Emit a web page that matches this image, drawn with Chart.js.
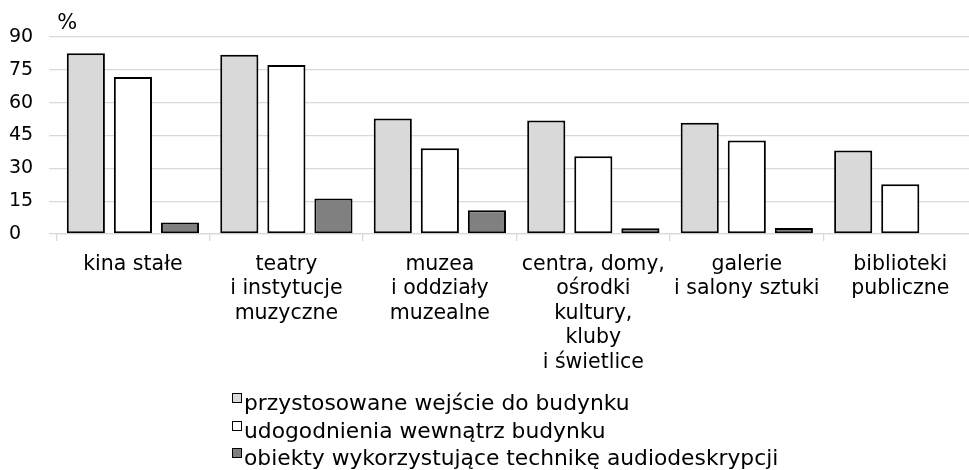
<!DOCTYPE html>
<html>
<head>
<meta charset="utf-8">
<script src="https://cdn.jsdelivr.net/npm/chart.js@4"></script>
<style>
  body { margin: 0; overflow: hidden; background: #fff; font-family: "DejaVu Sans", Verdana, sans-serif; }
  #wrap { position: relative; width: 977px; height: 390px; }
  #legend { position: absolute; left: 232px; top: 389px; font-size: 21.8px; color: #000; }
  #legend div { height: 27.5px; line-height: 27.5px; white-space: nowrap; }
  #legend span.box { display: inline-block; width: 8px; height: 8px; border: 1px solid #000; margin-right: 2px; position: relative; top: -6px; vertical-align: middle; }
</style>
</head>
<body>
<div id="wrap"><canvas id="chart"></canvas></div>
<div id="legend"></div>
<script>
const categories = [
  ["kina stałe"],
  ["teatry", "i instytucje", "muzyczne"],
  ["muzea", "i oddziały", "muzealne"],
  ["centra, domy,", "ośrodki", "kultury,", "kluby", "i świetlice"],
  ["galerie", "i salony sztuki"],
  ["biblioteki", "publiczne"]
];
const seriesNames = [
  "przystosowane wejście do budynku",
  "udogodnienia wewnątrz budynku",
  "obiekty wykorzystujące technikę audiodeskrypcji"
];
const entrance = [82.6, 81.9, 52.8, 51.9, 50.8, 38.1];
const inside = [71.7, 77.2, 39.2, 35.5, 42.7, 22.7];
const audio = [5.3, 16.2, 10.8, 2.6, 2.7, 0];
const yTicks = [0, 15, 30, 45, 60, 75, 90];
const colors = ["#d9d9d9", "#ffffff", "#808080"];

const font = "'DejaVu Sans', Verdana, sans-serif";

// "%" unit above the y axis
const percentLabel = {
  id: "percentLabel",
  afterDraw(chart) {
    const ctx = chart.ctx;
    ctx.save();
    ctx.font = "21px " + font;
    ctx.fillStyle = "#000";
    ctx.textBaseline = "alphabetic";
    ctx.fillText("%", chart.chartArea.left + 1, 29);
    ctx.restore();
  }
};

const chart = new Chart("chart", {
  type: "bar",
  data: {
    labels: categories,
    datasets: [entrance, inside, audio].map((d, i) => ({
      label: seriesNames[i],
      data: d,
      backgroundColor: colors[i],
      borderColor: "#000",
      borderWidth: 2,
      borderSkipped: false,
      categoryPercentage: 0.92,
      barPercentage: 0.81
    }))
  },
  options: {
    responsive: true,
    maintainAspectRatio: false,
    animation: false,
    layout: { padding: { left: 9, right: 0, top: 37, bottom: 4 } },
    plugins: { legend: { display: false }, tooltip: { enabled: false } },
    scales: {
      x: {
        grid: { offset: true, drawOnChartArea: false, tickLength: 7, color: "#d9d9d9", lineWidth: 1.3 },
        border: { color: "#d9d9d9", width: 1.3 },
        ticks: { color: "#000", padding: 11, font: { family: font, size: 20.5, lineHeight: 1.2 }, maxRotation: 0, autoSkip: false }
      },
      y: {
        min: 0,
        max: 90,
        afterBuildTicks: (scale) => { scale.ticks = yTicks.map((v) => ({ value: v })); },
        grid: { color: "#d9d9d9", lineWidth: 1.3, tickLength: 7 },
        border: { display: false },
        ticks: { color: "#000", padding: 8, crossAlign: "far", font: { family: font, size: 19 } }
      }
    }
  },
  plugins: [percentLabel]
});

const legend = document.getElementById("legend");
seriesNames.forEach((name, i) => {
  const row = document.createElement("div");
  const box = document.createElement("span");
  box.className = "box";
  box.style.background = colors[i];
  row.appendChild(box);
  row.appendChild(document.createTextNode(name));
  legend.appendChild(row);
});
</script>
</body>
</html>
